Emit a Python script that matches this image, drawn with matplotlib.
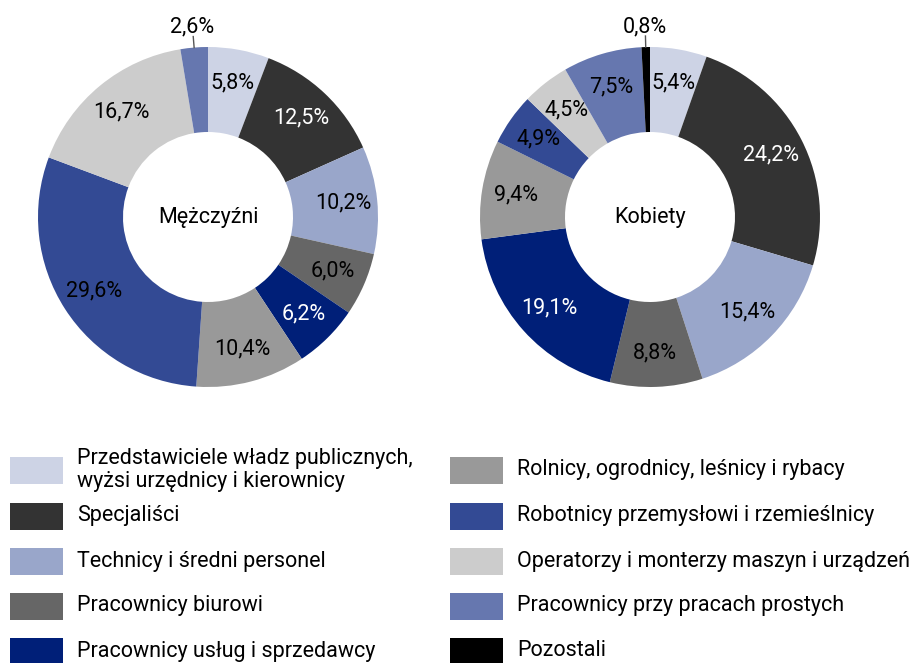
import matplotlib
matplotlib.use('Agg')
import matplotlib.pyplot as plt
from matplotlib.patches import Rectangle
import numpy as np

plt.rcParams['font.family'] = ['Roboto', 'DejaVu Sans']

categories = ['Przedstawiciele władz publicznych,\nwyżsi urzędnicy i kierownicy',
              'Specjaliści',
              'Technicy i średni personel',
              'Pracownicy biurowi',
              'Pracownicy usług i sprzedawcy',
              'Rolnicy, ogrodnicy, leśnicy i rybacy',
              'Robotnicy przemysłowi i rzemieślnicy',
              'Operatorzy i monterzy maszyn i urządzeń',
              'Pracownicy przy pracach prostych',
              'Pozostali']
colors = ['#CDD3E5', '#333333', '#99A6CA', '#666666', '#001F78',
          '#999999', '#334A94', '#CCCCCC', '#6677AF', '#000000']
# white labels on the dark slices
white_text = [False, True, False, False, True, False, False, False, False, False]

men = [5.8, 12.5, 10.2, 6.0, 6.2, 10.4, 29.6, 16.7, 2.6, 0.0]
women = [5.4, 24.2, 15.4, 8.8, 19.1, 9.4, 4.9, 4.5, 7.5, 0.8]

W, H = 915, 663
fig = plt.figure(figsize=(W / 100, H / 100), dpi=100)


def donut(cx, cy, r, values, title):
    # axes placed in pixel coords (from top-left)
    ax = fig.add_axes([(cx - r) / W, 1 - (cy + r) / H, 2 * r / W, 2 * r / H])
    idx = [i for i, v in enumerate(values) if v > 0]
    vals = [values[i] for i in idx]
    wedges, _ = ax.pie(vals, colors=[colors[i] for i in idx], startangle=90,
                       counterclock=False, radius=1,
                       wedgeprops=dict(width=0.5, linewidth=0))
    for w, i, v in zip(wedges, idx, vals):
        ang = np.deg2rad((w.theta1 + w.theta2) / 2)
        lab = '{:.1f}%'.format(v).replace('.', ',')
        if v < 3:
            ax.plot([np.cos(ang), 1.065 * np.cos(ang)], [np.sin(ang), 1.065 * np.sin(ang)],
                    color='#555555', lw=1, clip_on=False)
            ax.text(1.12 * np.cos(ang), 1.12 * np.sin(ang), lab, ha='center', va='center',
                    fontsize=15.5)
        else:
            ax.text(0.8 * np.cos(ang), 0.8 * np.sin(ang), lab, ha='center', va='center',
                    fontsize=15.5, color='white' if white_text[i] else 'black')
    ax.text(0, 0, title, ha='center', va='center', fontsize=15.5)
    ax.set_xlim(-1, 1)
    ax.set_ylim(-1, 1)
    ax.set_aspect('equal')
    ax.axis('off')


donut(208, 217, 170, men, 'Mężczyźni')
donut(650, 217, 170, women, 'Kobiety')

# legend, two columns
rows_y = [470, 516, 561, 606, 651]
for k, (name, c) in enumerate(zip(categories, colors)):
    col, row = divmod(k, 5)
    x0 = 10 if col == 0 else 450
    y = rows_y[row]
    fig.patches.append(Rectangle((x0 / W, 1 - (y + 13.5) / H), 53 / W, 27 / H,
                                 transform=fig.transFigure, color=c, lw=0))
    fig.text((x0 + 67) / W, 1 - y / H, name, ha='left', va='center', fontsize=15.5,
             linespacing=1.08)

fig.savefig('out.png', dpi=100)
